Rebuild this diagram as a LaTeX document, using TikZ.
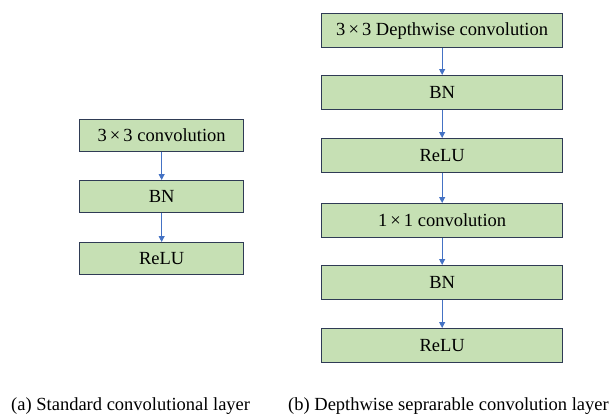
\documentclass[tikz,border=0pt]{standalone}
\usepackage{fontspec}
\setmainfont{Liberation Serif}
\usetikzlibrary{arrows.meta}
\definecolor{boxfill}{HTML}{C6E0B4}
\definecolor{boxline}{HTML}{2F3B55}
\definecolor{arrowblue}{HTML}{4472C4}
\tikzset{
  layerbox/.style={draw=boxline, line width=1.3pt, fill=boxfill, minimum height=#1, inner sep=0pt, font=\fontsize{18.5}{21}\selectfont, anchor=north west},
  flow/.style={draw=arrowblue, line width=0.9pt, -{Triangle[length=6pt,width=6pt]}},
  caption/.style={font=\fontsize{18.5}{21}\selectfont, inner sep=0pt}
}
\begin{document}
\begin{tikzpicture}[x=1pt,y=-1pt]
\useasboundingbox (0,0) rectangle (614,415);
% left column
\node[layerbox=32pt, minimum width=164pt] (a1) at (79,119) {3\,×\,3 convolution};
\node[layerbox=32pt, minimum width=164pt] (a2) at (79,180) {BN};
\node[layerbox=32pt, minimum width=164pt] (a3) at (79,242) {ReLU};
\draw[flow] (a1) -- (a2);
\draw[flow] (a2) -- (a3);
% right column
\node[layerbox=34pt, minimum width=241pt] (b1) at (321,13) {3\,×\,3 Depthwise convolution};
\node[layerbox=34pt, minimum width=241pt] (b2) at (321,75) {BN};
\node[layerbox=34pt, minimum width=241pt] (b3) at (321,138) {ReLU};
\node[layerbox=34pt, minimum width=241pt] (b4) at (321,203) {1\,×\,1 convolution};
\node[layerbox=34pt, minimum width=241pt] (b5) at (321,265) {BN};
\node[layerbox=34pt, minimum width=241pt] (b6) at (321,328) {ReLU};
\draw[flow] (b1) -- (b2);
\draw[flow] (b2) -- (b3);
\draw[flow] (b3) -- (b4);
\draw[flow] (b4) -- (b5);
\draw[flow] (b5) -- (b6);
% captions
\node[caption, anchor=base west] (ca) at (11,410) {(a) Standard convolutional layer};
\node[caption, anchor=base west] (cb) at (288,410) {(b) Depthwise seprarable convolution layer};
\end{tikzpicture}
\end{document}
